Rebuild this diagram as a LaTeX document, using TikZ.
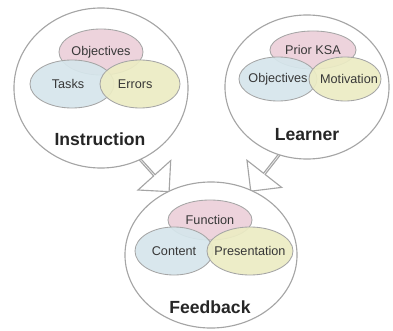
\documentclass[tikz,border=0pt]{standalone}
\usepackage{fontspec}
\setmainfont{Liberation Sans}
\usepackage{tikz}
\usetikzlibrary{positioning,calc,shapes.geometric,shapes.arrows}
\definecolor{pinkfill}{RGB}{236,208,218}
\definecolor{bluefill}{RGB}{214,230,236}
\definecolor{yellowfill}{RGB}{236,236,196}
\definecolor{rimgray}{RGB}{165,165,165}
\definecolor{txtgray}{RGB}{55,55,55}

\begin{document}
\begin{tikzpicture}[x=0.025cm,y=0.025cm,
  bigcirc/.style={ellipse,draw=rimgray,thick,fill=white,inner sep=0pt},
  smallell/.style={ellipse,draw=rimgray,semithick,inner sep=0pt,fill opacity=0.92},
  itemtxt/.style={font=\fontsize{9}{10}\selectfont,text=txtgray},
  headtxt/.style={font=\fontsize{12.5}{14}\bfseries\selectfont,text=black!85},
  blockarrow/.style={single arrow,draw=rimgray,fill=white,thick,minimum height=1.7cm,
    minimum width=1.1cm,single arrow head extend=0.3cm,single arrow tip angle=90,inner sep=0pt}]
\useasboundingbox (0,0) rectangle (393,330);
% ---------------- block arrows (behind the circles) ----------------
\node[blockarrow,rotate=-48] (arrI) at (146,164) {};
\node[blockarrow,rotate=-128] (arrL) at (272,166) {};
% ---------------- Instruction ----------------
\node[bigcirc,minimum width=4.35cm,minimum height=4.0cm] (instr) at (101,242) {};
\node[smallell,fill=pinkfill,minimum width=2.1cm,minimum height=1.15cm] (iobj) at (101,278) {};
\node[smallell,fill=bluefill,minimum width=2.1cm,minimum height=1.2cm] (itask) at (72,246) {};
\node[smallell,fill=yellowfill,minimum width=2.0cm,minimum height=1.2cm] (ierr) at (140,246) {};
\node[itemtxt] at (iobj) {Objectives};
\node[itemtxt] at ([xshift=-0.1cm]itask) {Tasks};
\node[itemtxt] at ([xshift=-0.12cm]ierr) {Errors};
\node[headtxt] (instrlab) at (100,191) {Instruction};
% ---------------- Learner ----------------
\node[bigcirc,minimum width=4.1cm,minimum height=3.6cm] (learn) at (307,243) {};
\node[smallell,fill=pinkfill,minimum width=2.15cm,minimum height=0.95cm] (lksa) at (313,280) {};
\node[smallell,fill=bluefill,minimum width=1.95cm,minimum height=1.1cm] (lobj) at (278,251) {};
\node[smallell,fill=yellowfill,minimum width=1.8cm,minimum height=1.1cm] (lmot) at (345,251) {};
\node[itemtxt] at (lksa) {Prior KSA};
\node[itemtxt] at (lobj) {Objectives};
\node[itemtxt] at ([xshift=0.1cm]lmot) {Motivation};
\node[headtxt] (learnlab) at (307,195) {Learner};
% ---------------- Feedback ----------------
\node[bigcirc,minimum width=4.3cm,minimum height=3.65cm] (fb) at (211,75) {};
\node[smallell,fill=pinkfill,minimum width=2.1cm,minimum height=1.0cm] (ffun) at (210,110) {};
\node[smallell,fill=bluefill,minimum width=1.95cm,minimum height=1.2cm] (fcon) at (174,79) {};
\node[smallell,fill=yellowfill,minimum width=2.15cm,minimum height=1.2cm] (fpre) at (250,79) {};
\node[itemtxt] at (ffun) {Function};
\node[itemtxt] at (fcon) {Content};
\node[itemtxt] at (fpre) {Presentation};
\node[headtxt] (fblab) at (210,23) {Feedback};
\end{tikzpicture}
\end{document}
